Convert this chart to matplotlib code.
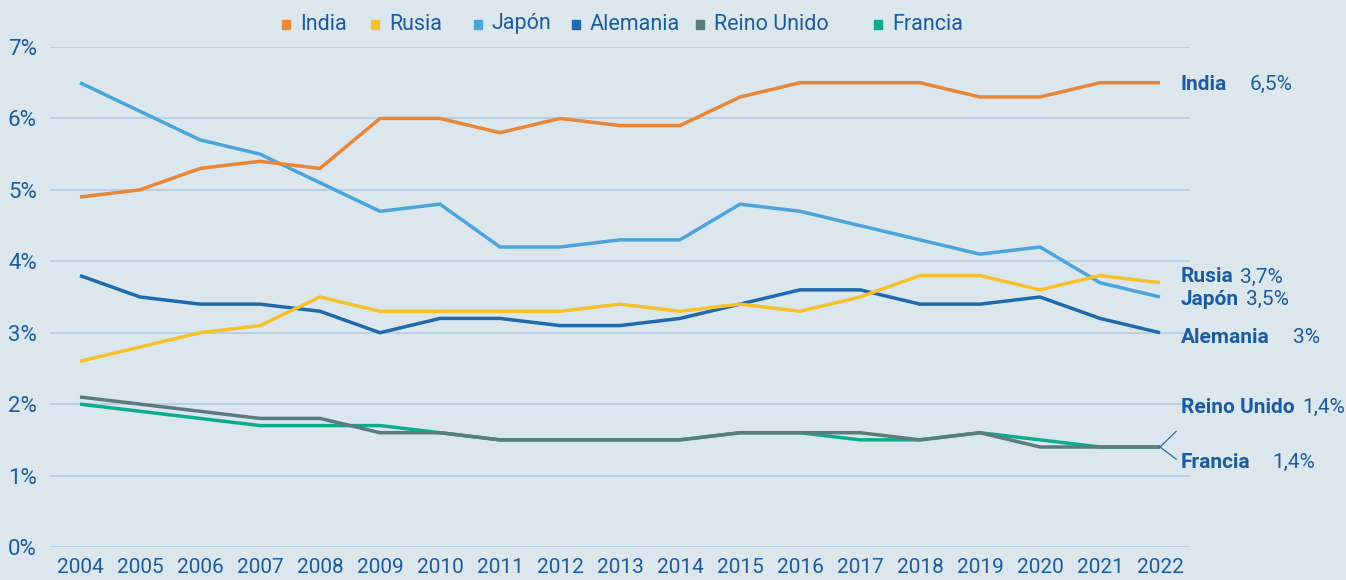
import matplotlib
matplotlib.use("Agg")
import matplotlib.pyplot as plt

plt.rcParams['font.family'] = ['Roboto', 'DejaVu Sans']

years = list(range(2004, 2023))
india = [4.9, 5.0, 5.3, 5.4, 5.3, 6.0, 6.0, 5.8, 6.0, 5.9, 5.9, 6.3, 6.5, 6.5, 6.5, 6.3, 6.3, 6.5, 6.5]
rusia = [2.6, 2.8, 3.0, 3.1, 3.5, 3.3, 3.3, 3.3, 3.3, 3.4, 3.3, 3.4, 3.3, 3.5, 3.8, 3.8, 3.6, 3.8, 3.7]
japon = [6.5, 6.1, 5.7, 5.5, 5.1, 4.7, 4.8, 4.2, 4.2, 4.3, 4.3, 4.8, 4.7, 4.5, 4.3, 4.1, 4.2, 3.7, 3.5]
alemania = [3.8, 3.5, 3.4, 3.4, 3.3, 3.0, 3.2, 3.2, 3.1, 3.1, 3.2, 3.4, 3.6, 3.6, 3.4, 3.4, 3.5, 3.2, 3.0]
reino_unido = [2.1, 2.0, 1.9, 1.8, 1.8, 1.6, 1.6, 1.5, 1.5, 1.5, 1.5, 1.6, 1.6, 1.6, 1.5, 1.6, 1.4, 1.4, 1.4]
francia = [2.0, 1.9, 1.8, 1.7, 1.7, 1.7, 1.6, 1.5, 1.5, 1.5, 1.5, 1.6, 1.6, 1.5, 1.5, 1.6, 1.5, 1.4, 1.4]

names = ["India", "Rusia", "Japón", "Alemania", "Reino Unido", "Francia"]
end_texts = ["6,5%", "3,7%", "3,5%", "3%", "1,4%", "1,4%"]
series = [india, rusia, japon, alemania, reino_unido, francia]
colors = ["#e8873a", "#f6c22b", "#4ba5dc", "#1f69ad", "#5b7b7c", "#0bae8b"]

bg = "#dce6ed"
text_col = "#1b5c9e"
grid_col = "#b5cde0"

fig = plt.figure(figsize=(13.46, 5.80), dpi=100, facecolor=bg)
ax = fig.add_axes([50 / 1346, 33 / 580, 1140 / 1346, 500 / 580])
ax.set_facecolor(bg)

# Draw in reverse so India stays on top
for vals, col in reversed(list(zip(series, colors))):
    ax.plot(years, vals, color=col, lw=2.5, solid_capstyle='butt', zorder=3)

ax.set_xlim(2003.5, 2022.5)
ax.set_ylim(0, 7)
ax.set_yticks(range(0, 8))
ax.set_yticklabels([f"{v}%" for v in range(0, 8)])
ax.set_xticks(years)
ax.set_xticklabels([str(y) for y in years])
ax.grid(axis='y', color=grid_col, lw=1.2, zorder=0)
for s in ax.spines.values():
    s.set_visible(False)
ax.tick_params(axis='both', length=0, colors=text_col)
ax.tick_params(axis='y', pad=9.5, labelsize=16)
ax.tick_params(axis='x', pad=8, labelsize=15)

# End-of-line labels
name_y = [6.48, 3.78, 3.46, 2.93, 1.95, 1.19]
value_x = [2023.5, 2023.33, 2023.43, 2024.22, 2024.37, 2023.88]
for nm, txt, ny, vx in zip(names, end_texts, name_y, value_x):
    ax.text(2022.35, ny, nm, color=text_col, fontsize=15, fontweight='bold',
            va='center', ha='left', clip_on=False)
    ax.text(vx, ny, txt, color=text_col, fontsize=15, va='center', ha='left',
            clip_on=False)

# Leader lines for the two overlapping series
ax.plot([2022, 2022.27], [reino_unido[-1], 1.62], color="#1f69ad", lw=0.9, clip_on=False, zorder=4)
ax.plot([2022, 2022.27], [francia[-1], 1.23], color="#1f69ad", lw=0.9, clip_on=False, zorder=4)

# Legend row along the top
marker_x = [286, 375, 478, 576, 700, 878]
for nm, col, mx in zip(names, colors, marker_x):
    fig.patches.append(plt.Rectangle(((mx - 4) / 1346, 1 - 29 / 580), 8 / 1346, 9 / 580,
                                     transform=fig.transFigure, color=col, figure=fig))
    fig.text((mx + 14) / 1346, 1 - 24 / 580, nm, color=text_col, fontsize=15.5,
             va='center', ha='left')

fig.savefig("out.png", dpi=100, facecolor=bg)
